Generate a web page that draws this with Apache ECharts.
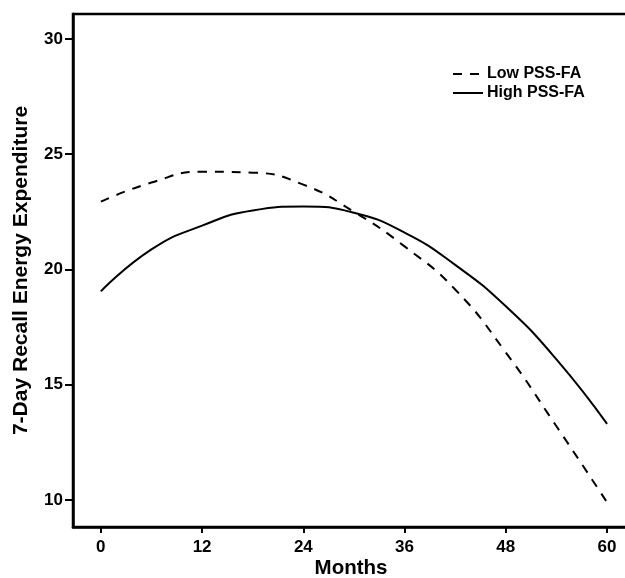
<!DOCTYPE html>
<html><head><meta charset="utf-8">
<script src="https://cdn.jsdelivr.net/npm/echarts@6/dist/echarts.min.js"></script>
<style>html,body{margin:0;padding:0;background:#fff}#c{width:625px;height:578px}</style>
</head><body><div id="c"></div>
<script>
const months = [0, 6, 12, 18, 24, 30, 36, 42, 48, 54, 60];
const lowPSSFA = [22.94, 23.77, 24.24, 24.2, 23.68, 22.5, 21.0, 19.13, 16.4, 13.2, 9.9];
const highPSSFA = [19.05, 20.87, 21.9, 22.56, 22.73, 22.46, 21.6, 20.2, 18.4, 16.1, 13.3];
const xTicks = [0, 12, 24, 36, 48, 60];
const yTicks = [10, 15, 20, 25, 30];

const font = 'Liberation Sans, Arial, sans-serif';
const chart = echarts.init(document.getElementById('c'), null, {renderer: 'canvas'});
chart.setOption({
  animation: false,
  backgroundColor: '#fff',
  grid: {left: 73, top: 14, bottom: 51, right: -4, outerBoundsMode: 'none', containLabel: false,
         show: true, borderColor: '#000', borderWidth: 2.5, backgroundColor: 'transparent'},
  legend: {
    orient: 'vertical', left: 447, top: 61, itemGap: 3, itemWidth: 30, itemHeight: 15,
    itemStyle: {opacity: 0},
    textStyle: {fontFamily: font, fontWeight: 'bold', fontSize: 16, color: '#000', padding: [0, 0, 0, -1]},
    data: ['Low PSS-FA', 'High PSS-FA']
  },
  xAxis: {
    type: 'value', min: -3.3, max: 62.6,
    name: 'Months', nameLocation: 'middle', nameGap: 31, nameMoveOverlap: false,
    nameTextStyle: {fontFamily: font, fontWeight: 'bold', fontSize: 20.5, color: '#000'},
    axisLine: {show: true, onZero: false, lineStyle: {color: '#000', width: 2.5}},
    axisTick: {show: true, length: 6, customValues: xTicks, lineStyle: {color: '#000', width: 2}},
    axisLabel: {customValues: xTicks, margin: 12, fontFamily: font, fontWeight: 'bold', fontSize: 17, color: '#000'},
    splitLine: {show: false}
  },
  yAxis: {
    type: 'value', min: 8.83, max: 31.08,
    name: '7-Day Recall Energy Expenditure', nameLocation: 'middle', nameGap: 41, nameMoveOverlap: false,
    nameTextStyle: {fontFamily: font, fontWeight: 'bold', fontSize: 21, color: '#000'},
    axisLine: {show: true, onZero: false, lineStyle: {color: '#000', width: 2.5}},
    axisTick: {show: true, length: 8, customValues: yTicks, lineStyle: {color: '#000', width: 2}},
    axisLabel: {customValues: yTicks, margin: 10, fontFamily: font, fontWeight: 'bold', fontSize: 17, color: '#000'},
    splitLine: {show: false}
  },
  series: [
    {name: 'Low PSS-FA', type: 'line', smooth: true, showSymbol: false, symbol: 'none',
     data: months.map((m, i) => [m, lowPSSFA[i]]),
     lineStyle: {color: '#000', width: 2, type: [9, 8]}, itemStyle: {color: '#000'}},
    {name: 'High PSS-FA', type: 'line', smooth: true, showSymbol: false, symbol: 'none',
     data: months.map((m, i) => [m, highPSSFA[i]]),
     lineStyle: {color: '#000', width: 2, type: 'solid'}, itemStyle: {color: '#000'}}
  ]
});
</script></body></html>
